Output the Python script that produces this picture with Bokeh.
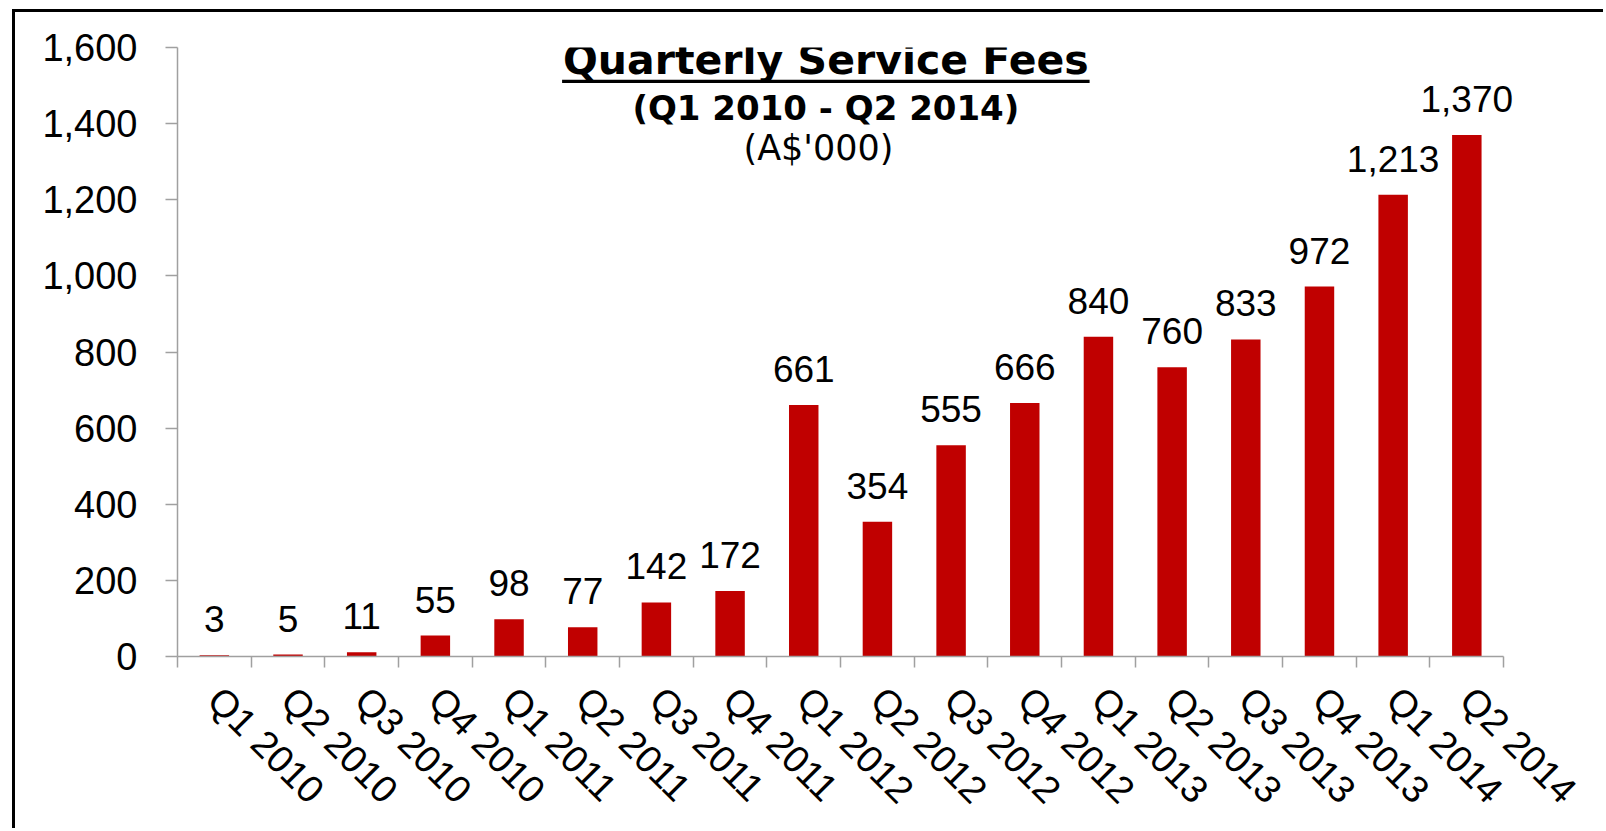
import math
from bokeh.plotting import figure
from bokeh.models import (ColumnDataSource, Range1d, FixedTicker, NumeralTickFormatter,
                          LabelSet, Label, BoxAnnotation)
from bokeh.core.properties import value
from bokeh.embed import file_html
from bokeh.resources import INLINE

quarters = ["Q1 2010", "Q2 2010", "Q3 2010", "Q4 2010",
            "Q1 2011", "Q2 2011", "Q3 2011", "Q4 2011",
            "Q1 2012", "Q2 2012", "Q3 2012", "Q4 2012",
            "Q1 2013", "Q2 2013", "Q3 2013", "Q4 2013",
            "Q1 2014", "Q2 2014"]
fees = [3, 5, 11, 55, 98, 77, 142, 172, 661, 354, 555, 666, 840, 760, 833, 972, 1213, 1370]
y_ticks = [0, 200, 400, 600, 800, 1000, 1200, 1400, 1600]
title_text = "Quarterly Service Fees"
subtitle_text = "(Q1 2010 - Q2 2014)"
units_text = "(A$'000)"

BAR_COLOR = "#C00000"
AXIS_COLOR = "#A0A0A0"

n = len(quarters)
centers = [i + 0.5 for i in range(n)]
bounds = [float(i) for i in range(n + 1)]

src = ColumnDataSource(dict(x=centers, top=fees, label=[f"{v:,}" for v in fees]))

p = figure(width=1591, height=819, output_backend="svg", toolbar_location=None,
           x_range=Range1d(0, n + 0.5), y_range=Range1d(0, 1600),
           min_border_left=162, min_border_right=66, min_border_top=35, min_border_bottom=175,
           margin=(9, 0, 0, 12))
p.styles = {"border-left": "3px solid black", "border-top": "3px solid black"}
p.background_fill_color = "white"
p.border_fill_color = "white"
p.outline_line_color = None
p.grid.visible = False

p.vbar(x="x", top="top", width=0.4, bottom=0, source=src, fill_color=BAR_COLOR, line_color=None)

labels = LabelSet(x="x", y="top", text="label", source=src, text_align="center",
                  text_baseline="alphabetic", y_offset=23, text_font=value("Liberation Sans"),
                  text_font_size=value("37px"), text_color="black")
p.add_layout(labels)

# y axis
ya = p.yaxis[0]
ya.ticker = FixedTicker(ticks=y_ticks)
ya.formatter = NumeralTickFormatter(format="0,0")
ya.axis_line_color = AXIS_COLOR
ya.axis_line_width = 1.5
ya.major_tick_line_color = AXIS_COLOR
ya.major_tick_line_width = 1.5
ya.major_tick_out = 12
ya.major_tick_in = 0
ya.minor_tick_line_color = None
ya.major_label_text_font = "Liberation Sans"
ya.major_label_text_font_size = "38px"
ya.major_label_text_color = "black"
ya.major_label_standoff = 28

# x axis
xa = p.xaxis[0]
xa.bounds = (0, n)
xa.ticker = FixedTicker(ticks=centers, minor_ticks=bounds)
xa.major_label_overrides = {c: q for c, q in zip(centers, quarters)}
xa.axis_line_color = AXIS_COLOR
xa.axis_line_width = 1.5
xa.major_tick_line_color = None
xa.minor_tick_line_color = AXIS_COLOR
xa.minor_tick_line_width = 1.5
xa.minor_tick_out = 11
xa.minor_tick_in = 0
xa.major_label_orientation = -math.pi / 4
xa.major_label_text_font = "Liberation Sans"
xa.major_label_text_font_size = "38px"
xa.major_label_text_color = "black"
xa.major_label_standoff = 26

# titles
tx = 8.80
p.add_layout(Label(x=tx, y=1566, text=title_text, text_align="center", text_baseline="alphabetic",
                   text_font="DejaVu Sans", text_font_style="bold", text_font_size="41px",
                   text_color="black"))
p.add_layout(BoxAnnotation(left=tx - 3.58, right=tx + 3.58, bottom=1507, top=1515,
                           fill_color="black", fill_alpha=1.0, line_color=None))
p.add_layout(Label(x=tx, y=1440, text=subtitle_text, text_align="center", text_baseline="alphabetic",
                   text_font="DejaVu Sans", text_font_style="bold", text_font_size="34px",
                   text_color="black"))
p.add_layout(Label(x=tx - 0.1, y=1335, text=units_text, text_align="center", text_baseline="alphabetic",
                   text_font="DejaVu Sans", text_font_size="35px", text_color="black"))

open("out.html", "w").write(file_html(p, INLINE))
